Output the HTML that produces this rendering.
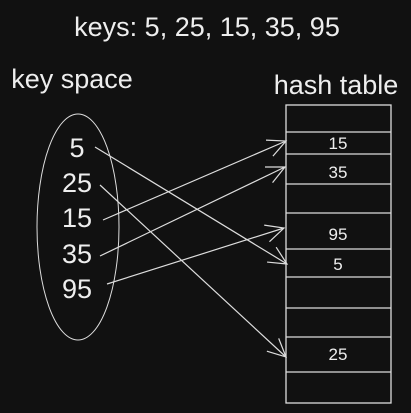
<!DOCTYPE html>
<html><head><meta charset="utf-8"><style>
html,body{margin:0;padding:0;background:#111;}
svg{display:block;font-family:"Liberation Sans",sans-serif;}
</style></head><body>
<svg width="411" height="413" viewBox="0 0 411 413">
<rect width="411" height="413" fill="#111"/>
<text x="207" y="36" font-size="27" fill="#eee" text-anchor="middle">keys: 5, 25, 15, 35, 95</text>
<text x="72" y="88" font-size="27" fill="#eee" text-anchor="middle">key space</text>
<text x="336" y="94" font-size="27" fill="#eee" text-anchor="middle">hash table</text>
<ellipse cx="78" cy="227" rx="41" ry="113" fill="none" stroke="#ddd" stroke-width="1"/>
<g id="keys" fill="#eee" font-size="27" text-anchor="middle"></g>
<rect x="286" y="105" width="105" height="298" fill="none" stroke="#ddd" stroke-width="1.3"/>
<g id="rows" stroke="#ddd" stroke-width="1.2"></g>
<g id="cells" fill="#eee" font-size="17" text-anchor="middle"></g>
<g id="arrows" stroke="#ddd" stroke-width="1.2" fill="none"></g>
</svg>
<script>
const keys=["5","25","15","35","95"];
const keyY=[157,192,227,263,298];
const rowLines=[132,154,184,213,249,277,308,337,372];
const cellVals=["15","35","95","5","25"];
const cellY=[149,178,240,270,360];
const arrowFrom=[[95,147],[100,185],[103,220],[100,256],[107,284]];
const arrowTo=[[287,264],[286,357],[286,141],[285,167],[284,228]];
const ns="http://www.w3.org/2000/svg";
const kg=document.getElementById('keys');
keys.forEach((k,i)=>{const t=document.createElementNS(ns,'text');


t.setAttribute('x',77);t.setAttribute('y',keyY[i]);t.textContent=k;kg.appendChild(t);});
const rg=document.getElementById('rows');
rowLines.forEach((y,i)=>{const l=document.createElementNS(ns,'line');


l.setAttribute('x1',286);l.setAttribute('x2',391);l.setAttribute('y1',y);l.setAttribute('y2',y);rg.appendChild(l);});
const cg=document.getElementById('cells');
cellVals.forEach((v,i)=>{const t=document.createElementNS(ns,'text');


t.setAttribute('x',338);t.setAttribute('y',cellY[i]);t.textContent=v;cg.appendChild(t);});
const ag=document.getElementById('arrows');
arrowFrom.forEach((f,i)=>{const to=arrowTo[i];const dx=to[0]-f[0],dy=to[1]-f[1];const a=Math.atan2(dy,dx);const L=20,s=0.45;
const p=document.createElementNS(ns,'path');


const h1=[to[0]-L*Math.cos(a-s),to[1]-L*Math.sin(a-s)],h2=[to[0]-L*Math.cos(a+s),to[1]-L*Math.sin(a+s)];
p.setAttribute('d',`M${f[0]},${f[1]}L${to[0]},${to[1]}M${h1[0]},${h1[1]}L${to[0]},${to[1]}L${h2[0]},${h2[1]}`);
ag.appendChild(p);});
</script>
</body></html>
